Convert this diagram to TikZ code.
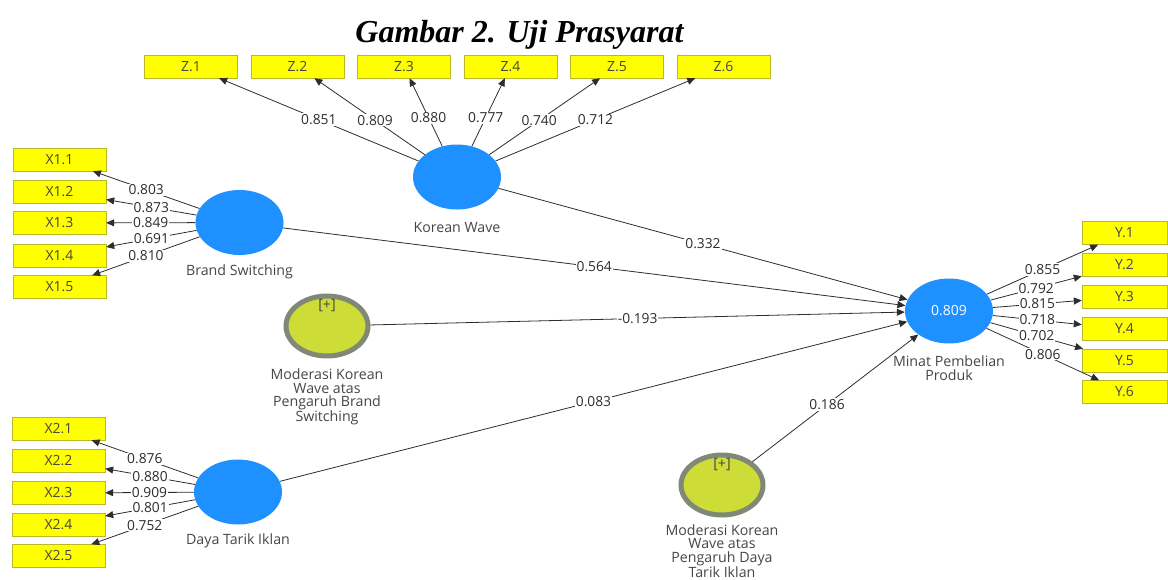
\documentclass[tikz,border=0pt]{standalone}
\usepackage{fontspec}
\usepackage{xcolor}
\usepackage{tikz}
\usetikzlibrary{
    shapes.geometric,
    arrows.meta,
    positioning
}
\setmainfont{Liberation Serif}
\newfontfamily\plsfont{Open Sans}
\definecolor{lvblue}{RGB}{30,144,255}
\definecolor{indyellow}{RGB}{255,255,0}
\definecolor{indedge}{RGB}{185,185,40}
\definecolor{modfill}{RGB}{205,220,55}
\definecolor{modedge}{RGB}{128,136,118}
\definecolor{linegray}{RGB}{45,45,45}
\definecolor{txtgray}{RGB}{70,70,70}
\tikzstyle{ind} = [
    rectangle, draw=indedge,
    fill=indyellow,
    minimum width=93pt,
    minimum height=23pt,
    text=txtgray,
    font=\plsfont\fontsize{14}{14}\selectfont
]
\tikzstyle{lv} = [
    ellipse,
    fill=lvblue,
    minimum width=88pt,
    minimum height=65pt
]
\tikzstyle{mod} = [
    ellipse, draw=modedge,
    line width=5pt,
    fill=modfill,
    minimum width=82pt,
    minimum height=60pt
]
\tikzstyle{lvname} = [
    align=center,
    text=txtgray,
    font=\plsfont\fontsize{14.2}{13.6}\selectfont
]
\tikzstyle{val} = [
    fill=white,
    inner sep=1pt,
    text=linegray,
    font=\plsfont\fontsize{13.8}{14}\selectfont
]
\tikzstyle{arrow} = [
    draw=linegray,
    line width=0.8pt,
    -{Triangle[length=8pt,width=7pt]}
]

\begin{document}
\begin{tikzpicture}[x=1pt, y=-1pt]
    \useasboundingbox (0,0) rectangle (1168,579);
    \node[anchor=base, font=\fontsize{32}{36}\selectfont\bfseries\itshape] (title) at (519.5,42) {Gambar 2. Uji Prasyarat};

    % latent variables
    \node[lv] (kw)  at (457,177)   {};
    \node[lv] (bs)  at (239.5,222.5) {};
    \node[lv] (dti) at (238,492)   {};
    \node[lv, text=white, font=\plsfont\fontsize{14}{14}\selectfont] (mpp) at (949,311) {0.809};
    \node[mod] (mod1) at (327,326) {};
    \node[mod] (mod2) at (722,485) {};
    \node[lvname] (mod1plus) at (327,306) {[+]};
    \node[lvname] (mod2plus) at (722,465) {[+]};

    \node[lvname] (kwname)  at (457,227)   {Korean Wave};
    \node[lvname] (bsname)  at (239.5,272) {Brand Switching};
    \node[lvname] (dtiname) at (238,541)   {Daya Tarik Iklan};
    \node[lvname] (mppname) at (949,368)   {Minat Pembelian\\Produk};
    \node[lvname] (mod1name) at (327,397)  {Moderasi Korean\\Wave atas\\Pengaruh Brand\\Switching};
    \node[lvname] (mod2name) at (722,551)  {Moderasi Korean\\Wave atas\\Pengaruh Daya\\Tarik Iklan};

    % indicators
    \node[ind] (z1) at (191,66.5)   {Z.1};
    \node[ind] (z2) at (297.5,66.5) {Z.2};
    \node[ind] (z3) at (404,66.5)   {Z.3};
    \node[ind] (z4) at (510.5,66.5) {Z.4};
    \node[ind] (z5) at (617,66.5)   {Z.5};
    \node[ind] (z6) at (723.5,66.5) {Z.6};

    \node[ind] (x11) at (59.5,159.5) {X1.1};
    \node[ind] (x12) at (59.5,191.5) {X1.2};
    \node[ind] (x13) at (59.5,223)   {X1.3};
    \node[ind] (x14) at (59.5,255.5) {X1.4};
    \node[ind] (x15) at (59.5,287)   {X1.5};

    \node[ind] (x21) at (58.5,428.5) {X2.1};
    \node[ind] (x22) at (58.5,460.5) {X2.2};
    \node[ind] (x23) at (58.5,493)   {X2.3};
    \node[ind] (x24) at (58.5,524.5) {X2.4};
    \node[ind] (x25) at (58.5,556)   {X2.5};

    \node[ind, minimum width=85pt] (y1) at (1124.5,233)   {Y.1};
    \node[ind, minimum width=85pt] (y2) at (1124.5,265)   {Y.2};
    \node[ind, minimum width=85pt] (y3) at (1124.5,297)   {Y.3};
    \node[ind, minimum width=85pt] (y4) at (1124.5,329)   {Y.4};
    \node[ind, minimum width=85pt] (y5) at (1124.5,360.5) {Y.5};
    \node[ind, minimum width=85pt] (y6) at (1124.5,392)   {Y.6};

    % outer loadings
    \draw[arrow] (kw) -- node[val] {0.851} (z1);
    \draw[arrow] (kw) -- node[val, pos=0.45] {0.809} (z2);
    \draw[arrow] (kw) -- node[val, pos=0.42] {0.880} (z3);
    \draw[arrow] (kw) -- node[val, pos=0.42] {0.777} (z4);
    \draw[arrow] (kw) -- node[val, pos=0.45] {0.740} (z5);
    \draw[arrow] (kw) -- node[val] {0.712} (z6);

    \draw[arrow] (bs) -- node[val] {0.803} (x11);
    \draw[arrow] (bs) -- node[val] {0.873} (x12);
    \draw[arrow] (bs) -- node[val] {0.849} (x13);
    \draw[arrow] (bs) -- node[val] {0.691} (x14);
    \draw[arrow] (bs) -- node[val] {0.810} (x15);

    \draw[arrow] (dti) -- node[val] {0.876} (x21);
    \draw[arrow] (dti) -- node[val] {0.880} (x22);
    \draw[arrow] (dti) -- node[val] {0.909} (x23);
    \draw[arrow] (dti) -- node[val] {0.801} (x24);
    \draw[arrow] (dti) -- node[val] {0.752} (x25);

    \draw[arrow] (mpp) -- node[val] {0.855} (y1);
    \draw[arrow] (mpp) -- node[val] {0.792} (y2);
    \draw[arrow] (mpp) -- node[val] {0.815} (y3);
    \draw[arrow] (mpp) -- node[val] {0.718} (y4);
    \draw[arrow] (mpp) -- node[val] {0.702} (y5);
    \draw[arrow] (mpp) -- node[val] {0.806} (y6);

    % inner model
    \draw[arrow] (kw) -- node[val] {0.332} (mpp);
    \draw[arrow] (bs) -- node[val] {0.564} (mpp);
    \draw[arrow] (mod1) -- node[val] {-0.193} (mpp);
    \draw[arrow] (dti) -- node[val] {0.083} (mpp);
    \draw[arrow] (mod2) -- node[val, pos=0.45] {0.186} (mpp);
\end{tikzpicture}
\end{document}
